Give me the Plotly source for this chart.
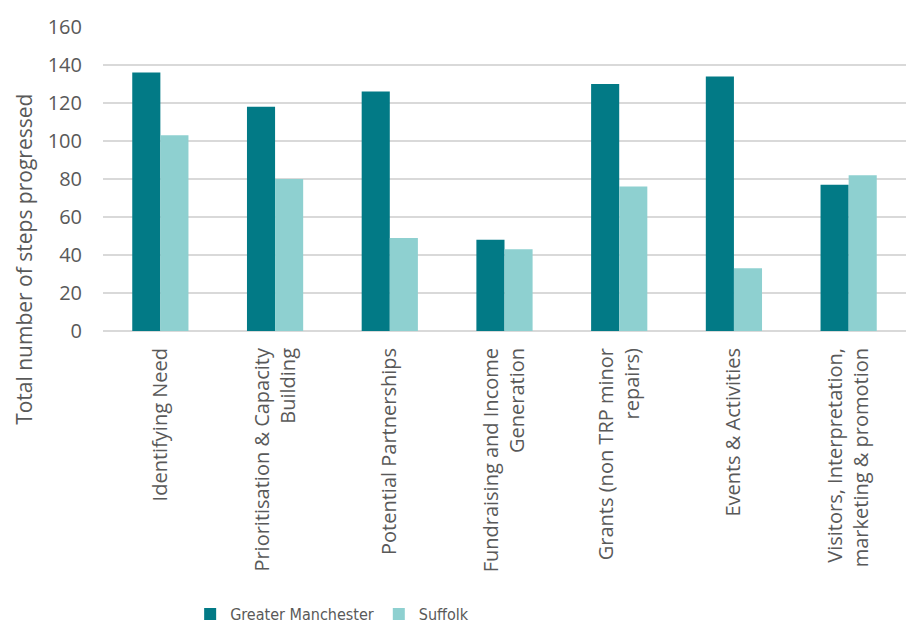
import plotly.graph_objects as go

categories = [
    "Identifying Need",
    "Prioritisation & Capacity<br>Building",
    "Potential Partnerships",
    "Fundraising and Income<br>Generation",
    "Grants (non TRP minor<br>repairs)",
    "Events & Activities",
    "Visitors, Interpretation,<br>marketing & promotion",
]
greater_manchester = [136, 118, 126, 48, 130, 134, 77]
suffolk = [103, 80, 49, 43, 76, 33, 82]
y_ticks = [0, 20, 40, 60, 80, 100, 120, 140, 160]

fig = go.Figure()
fig.add_trace(go.Bar(name="Greater Manchester", x=categories, y=greater_manchester,
                     marker=dict(color="#027A86", line=dict(width=0))))
fig.add_trace(go.Bar(name="Suffolk", x=categories, y=suffolk,
                     marker=dict(color="#8ED0D0", line=dict(width=0))))

fig.update_layout(
    width=908, height=623,
    barmode="group", bargap=0.51, bargroupgap=0,
    plot_bgcolor="white", paper_bgcolor="white",
    margin=dict(l=95, r=10, t=19, b=300, autoexpand=False),
    font=dict(family="Open Sans, sans-serif", color="#595959"),
    showlegend=True,
    legend=dict(orientation="h", x=0.357, xanchor="center", xref="container",
                y=0.0, yanchor="bottom", yref="container",
                font=dict(family="DejaVu Sans Condensed, Open Sans", size=16, color="#595959"),
                itemwidth=30),
    xaxis=dict(tickangle=-90, tickfont=dict(size=20), showline=False, ticks="",
               showgrid=False, ticklabelstandoff=12, automargin=False),
    yaxis=dict(range=[0, 160], tickvals=y_ticks, tickfont=dict(size=20),
               gridcolor="#D9D9D9", gridwidth=1.5, zeroline=True, zerolinecolor="#D9D9D9",
               zerolinewidth=1.5, showline=False, ticks="", ticklabelstandoff=20,
               automargin=False),
    annotations=[dict(text="Total number of steps progressed", textangle=-90,
                      xref="paper", yref="paper", x=0, y=0.234, xshift=-79,
                      xanchor="center", yanchor="middle", showarrow=False,
                      font=dict(size=21, color="#595959"))],
)

fig.write_html("out.html")
